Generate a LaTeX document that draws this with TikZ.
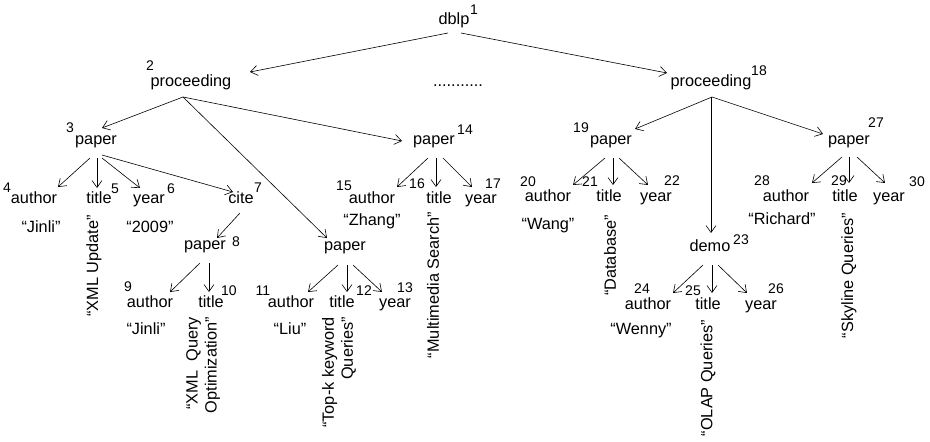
\documentclass[tikz,border=0pt]{standalone}
\usepackage{fontspec}
\setmainfont{Liberation Sans}
\usetikzlibrary{arrows.meta}
\begin{document}
\begin{tikzpicture}[x=1pt,y=-1pt,
  lbl/.style={font=\fontsize{16.3}{19}\selectfont, inner sep=0pt, text height=12pt, text depth=4pt},
  num/.style={font=\fontsize{14}{16}\selectfont, inner sep=0pt},
  rot/.style={font=\fontsize{16.3}{19}\selectfont, inner sep=0pt, rotate=90, anchor=east, align=right},
  arr/.style={-{Straight Barb[length=7pt,width=10pt]}, line width=0.6pt}]
\useasboundingbox (0,0) rectangle (930,442);
% level 0
\node[lbl] (dblp) at (454,20) {dblp};
\node[num] (n1) at (474,10) {1};
% level 1
\node[lbl] (pr2) at (191,82) {proceeding};
\node[num] (n2) at (150,66) {2};
\node[lbl] (dots) at (458,82) {...........};
\node[lbl] (pr18) at (711,82) {proceeding};
\node[num] (n18) at (759,71) {18};
% level 2
\node[lbl] (p3) at (96,140) {paper};
\node[num] (n3) at (70,128) {3};
\node[lbl] (p14) at (434,140) {paper};
\node[num] (n14) at (465,130) {14};
\node[lbl] (p19) at (611,140) {paper};
\node[num] (n19) at (581,128) {19};
\node[lbl] (p27) at (849,140) {paper};
\node[num] (n27) at (876,123) {27};
% level 3
\node[lbl] (a4) at (34,199) {author};
\node[num] (n4) at (7,188) {4};
\node[lbl] (t5) at (99,199) {title};
\node[num] (n5) at (115,189) {5};
\node[lbl] (y6) at (149,199) {year};
\node[num] (n6) at (171,189) {6};
\node[lbl] (c7) at (241,199) {cite};
\node[num] (n7) at (258,188) {7};
\node[lbl] (a15) at (372,199) {author};
\node[num] (n15) at (344,186) {15};
\node[lbl] (t16) at (439,199) {title};
\node[num] (n16) at (417,184) {16};
\node[lbl] (y17) at (481,199) {year};
\node[num] (n17) at (493,184) {17};
\node[lbl] (a20) at (548,197) {author};
\node[num] (n20) at (528,182) {20};
\node[lbl] (t21) at (609,197) {title};
\node[num] (n21) at (590,182) {21};
\node[lbl] (y22) at (656,197) {year};
\node[num] (n22) at (672,181) {22};
\node[lbl] (a28) at (786,197) {author};
\node[num] (n28) at (762,181) {28};
\node[lbl] (t29) at (845,197) {title};
\node[num] (n29) at (839,181) {29};
\node[lbl] (y30) at (889,197) {year};
\node[num] (n30) at (917,182) {30};
% values level 3
\node[lbl] (v4) at (41,228) {“Jinli”};
\node[rot] (v5) at (94,215) {“XML Update”};
\node[lbl] (v6) at (150,228) {“2009”};
\node[lbl] (v15) at (372,221) {“Zhang”};
\node[rot] (v16) at (433,212) {“Multimedia Search”};
\node[lbl] (v20) at (548,225) {“Wang”};
\node[rot] (v21) at (610,215) {“Database”};
\node[lbl] (v28) at (782,220) {“Richard”};
\node[rot] (v29) at (849,213) {“Skyline Queries”};
% level 4
\node[lbl] (p8) at (205,245) {paper};
\node[num] (n8) at (236,242) {8};
\node[lbl] (pm) at (345,246) {paper};
\node[lbl] (d23) at (710,247) {demo};
\node[num] (n23) at (741,240) {23};
% level 5
\node[lbl] (a9) at (150,303) {author};
\node[num] (n9) at (128,287) {9};
\node[lbl] (t10) at (211,303) {title};
\node[num] (n10) at (229,291) {10};
\node[lbl] (a11) at (291,303) {author};
\node[num] (n11) at (263,291) {11};
\node[lbl] (t12) at (342,303) {title};
\node[num] (n12) at (364,291) {12};
\node[lbl] (y13) at (395,303) {year};
\node[num] (n13) at (405,288) {13};
\node[lbl] (a24) at (648,305) {author};
\node[num] (n24) at (642,289) {24};
\node[lbl] (t25) at (708,305) {title};
\node[num] (n25) at (693,291) {25};
\node[lbl] (y26) at (761,305) {year};
\node[num] (n26) at (776,289) {26};
% values level 5
\node[lbl] (v9) at (146,330) {“Jinli”};
\node[rot] (v10) at (203,317) {“XML\ \ Query\\Optimization”};
\node[lbl] (v11) at (290,330) {“Liu”};
\node[rot] (v12) at (339,317) {“Top-k keyword\\Queries”};
\node[lbl] (v24) at (641,330) {“Wenny”};
\node[rot] (v25) at (708,320) {“OLAP Queries”};
% connectors
\draw[arr] ([shift={(-6,13)}]dblp.center) -- ([shift={(59,-10)}]pr2.center);
\draw[arr] ([shift={(7,13)}]dblp.center) -- ([shift={(-44,-9)}]pr18.center);
\draw[arr] ([shift={(-8,15)}]pr2.center) -- ([shift={(6,-12)}]p3.center);
\draw[arr] ([shift={(-8,15)}]pr2.center) -- ([shift={(-32,1)}]p14.center);
\draw[arr] ([shift={(-8,15)}]pr2.center) -- ([shift={(-18,-8)}]pm.center);
\draw[arr] ([shift={(1,15)}]pr18.center) -- ([shift={(24,-11)}]p19.center);
\draw[arr] ([shift={(0,15)}]pr18.center) -- ([shift={(1,-14)}]d23.center);
\draw[arr] ([shift={(1,15)}]pr18.center) -- ([shift={(-26,-6)}]p27.center);
\draw[arr] ([shift={(-6,18)}]p3.center) -- ([shift={(24,-12)}]a4.center);
\draw[arr] ([shift={(1,18)}]p3.center) -- ([shift={(-2,-11)}]t5.center);
\draw[arr] ([shift={(6,18)}]p3.center) -- ([shift={(-9,-11)}]y6.center);
\draw[arr] ([shift={(6,15)}]p3.center) -- ([shift={(-8,-7)}]c7.center);
\draw[arr] ([shift={(-1,14)}]c7.center) -- ([shift={(12,-7)}]p8.center);
\draw[arr] ([shift={(-5,18)}]p8.center) -- ([shift={(20,-11)}]a9.center);
\draw[arr] ([shift={(4,18)}]p8.center) -- ([shift={(-2,-11)}]t10.center);
\draw[arr] ([shift={(-7,19)}]pm.center) -- ([shift={(17,-11)}]a11.center);
\draw[arr] ([shift={(2,19)}]pm.center) -- ([shift={(5,-11)}]t12.center);
\draw[arr] ([shift={(8,19)}]pm.center) -- ([shift={(-13,-11)}]y13.center);
\draw[arr] ([shift={(-6,18)}]p14.center) -- ([shift={(25,-12)}]a15.center);
\draw[arr] ([shift={(2,18)}]p14.center) -- ([shift={(-3,-12)}]t16.center);
\draw[arr] ([shift={(9,18)}]p14.center) -- ([shift={(-9,-12)}]y17.center);
\draw[arr] ([shift={(-6,18)}]p19.center) -- ([shift={(25,-12)}]a20.center);
\draw[arr] ([shift={(2,18)}]p19.center) -- ([shift={(4,-12)}]t21.center);
\draw[arr] ([shift={(8,18)}]p19.center) -- ([shift={(-8,-12)}]y22.center);
\draw[arr] ([shift={(-7,18)}]d23.center) -- ([shift={(25,-12)}]a24.center);
\draw[arr] ([shift={(2,18)}]d23.center) -- ([shift={(4,-12)}]t25.center);
\draw[arr] ([shift={(8,18)}]d23.center) -- ([shift={(-14,-12)}]y26.center);
\draw[arr] ([shift={(-7,17)}]p27.center) -- ([shift={(26,-14)}]a28.center);
\draw[arr] ([shift={(0,17)}]p27.center) -- ([shift={(4,-14)}]t29.center);
\draw[arr] ([shift={(8,17)}]p27.center) -- ([shift={(-4,-14)}]y30.center);
\end{tikzpicture}
\end{document}
